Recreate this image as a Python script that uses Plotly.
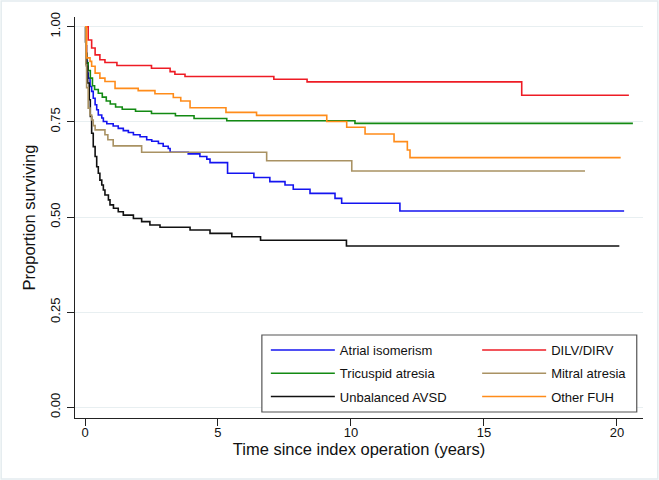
import plotly.graph_objects as go

# Kaplan-Meier estimates (time in years, proportion surviving)
atrial_t = [0, 0.03, 0.06, 0.09, 0.12, 0.19, 0.25, 0.31, 0.38, 0.44, 0.5, 0.63, 0.69, 0.82,
            1.06, 1.25, 1.44, 1.63, 1.82, 2.07, 2.32, 2.51, 2.76, 2.94, 3.13, 3.2, 3.88,
            4.32, 4.58, 4.7, 5.36, 6.35, 6.95, 7.52, 7.83, 8.46, 9.4, 9.65, 11.84, 20.27]
atrial_s = [1.0, 0.95, 0.91, 0.878, 0.865, 0.843, 0.83, 0.812, 0.795, 0.782, 0.768, 0.76, 0.751, 0.745,
            0.739, 0.733, 0.727, 0.722, 0.716, 0.711, 0.703, 0.699, 0.693, 0.686, 0.68, 0.670, 0.666,
            0.659, 0.652, 0.643, 0.615, 0.604, 0.593, 0.584, 0.573, 0.562, 0.549, 0.536, 0.516, 0.516]

dilv_t = [0, 0.12, 0.25, 0.38, 0.56, 0.75, 1.2, 2.5, 3.2, 3.38, 3.76, 7.1, 8.35, 16.42, 20.45]
dilv_s = [1.0, 0.965, 0.944, 0.926, 0.913, 0.906, 0.898, 0.891, 0.882, 0.875, 0.869, 0.862, 0.855, 0.820, 0.820]

tricuspid_t = [0, 0.03, 0.06, 0.12, 0.2, 0.28, 0.36, 0.5, 0.65, 0.8, 0.95, 1.15, 1.4, 1.9,
               2.5, 3.4, 4.1, 5.33, 10.15, 20.6]
tricuspid_s = [1.0, 0.93, 0.905, 0.885, 0.865, 0.845, 0.835, 0.825, 0.815, 0.805, 0.797, 0.789, 0.783, 0.778,
               0.772, 0.766, 0.759, 0.753, 0.746, 0.746]

mitral_t = [0, 0.03, 0.06, 0.12, 0.19, 0.25, 0.31, 0.38, 0.75, 0.86, 1.06, 2.13, 6.83, 10.03, 18.8]
mitral_s = [1.0, 0.9, 0.84, 0.786, 0.768, 0.755, 0.74, 0.729, 0.716, 0.703, 0.687, 0.670, 0.648, 0.621, 0.621]

avsd_t = [0, 0.02, 0.04, 0.06, 0.1, 0.16, 0.2, 0.25, 0.31, 0.38, 0.44, 0.5, 0.56, 0.63, 0.69,
          0.75, 0.88, 0.94, 1.07, 1.25, 1.44, 1.82, 2.13, 2.44, 2.82, 3.95, 4.7, 5.52, 6.6, 9.83, 20.09]
avsd_s = [1.0, 0.96, 0.93, 0.896, 0.852, 0.808, 0.764, 0.72, 0.685, 0.659, 0.632, 0.615, 0.597, 0.584, 0.571,
          0.558, 0.545, 0.532, 0.523, 0.514, 0.505, 0.496, 0.488, 0.479, 0.473, 0.466, 0.457, 0.448, 0.439, 0.424, 0.424]

other_t = [0, 0.06, 0.19, 0.25, 0.38, 0.56, 0.75, 1.13, 2.0, 2.63, 3.32, 3.6, 3.95, 5.3,
           6.45, 9.09, 9.84, 10.53, 11.62, 12.12, 12.22, 20.14]
other_s = [1.0, 0.918, 0.909, 0.896, 0.878, 0.865, 0.856, 0.838, 0.832, 0.824, 0.814, 0.805, 0.787, 0.775,
           0.767, 0.751, 0.736, 0.718, 0.698, 0.676, 0.656, 0.656]

x_ticks = [0, 5, 10, 15, 20]
y_ticks = [0, 0.25, 0.5, 0.75, 1.0]

FONT = "Liberation Sans, Arial, sans-serif"

# (name, times, surv, colour, legend column)
series = [
    ("Atrial isomerism", atrial_t, atrial_s, "#1414f0", "legend"),
    ("Tricuspid atresia", tricuspid_t, tricuspid_s, "#138a13", "legend"),
    ("Unbalanced AVSD", avsd_t, avsd_s, "#111111", "legend"),
    ("DILV/DIRV", dilv_t, dilv_s, "#ee1c25", "legend2"),
    ("Mitral atresia", mitral_t, mitral_s, "#a99263", "legend2"),
    ("Other FUH", other_t, other_s, "#ff8c1a", "legend2"),
]

fig = go.Figure()
for name, t, s, col, leg in series:
    fig.add_trace(go.Scatter(
        x=t, y=s,
        mode="lines",
        line=dict(color=col, width=1.6, shape="hv"),
        name=name,
        legend=leg,
        legendgroup=name))

legend_style = dict(
    yanchor="top", xanchor="left", y=0.207,
    bgcolor="rgba(0,0,0,0)", borderwidth=0,
    itemwidth=64, tracegroupgap=3.4, traceorder="grouped",
    font=dict(family=FONT, size=13, color="#111111"))

fig.update_layout(
    width=659, height=480,
    margin={'l': 75, 'b': 62, 't': 17, 'r': 16, 'autoexpand': False},
    plot_bgcolor="white",
    paper_bgcolor="white",
    font=dict(family=FONT, size=13, color="#111111"),
    legend=dict(x=0.336, **legend_style),
    legend2=dict(x=0.708, **legend_style),
    xaxis=dict(
        range=[-0.376, 20.98],
        tickvals=x_ticks,
        automargin=False,
        showgrid=False, zeroline=False,
        showline=True, linecolor="#222222", linewidth=1.2,
        ticks="outside", ticklen=7, tickcolor="#222222", tickwidth=1.2,
        tickfont=dict(size=13), ticklabelstandoff=-5,
        title=dict(text="Time since index operation (years)", font=dict(size=16.5), standoff=3)),
    yaxis=dict(
        range=[-0.028, 1.0255],
        tickvals=y_ticks, tickformat=".2f",
        tickangle=-90,
        automargin=False,
        showgrid=True, gridcolor="#e8eff1", gridwidth=1,
        zeroline=False,
        showline=True, linecolor="#222222", linewidth=1.2,
        ticks="outside", ticklen=7, tickcolor="#222222", tickwidth=1.2,
        tickfont=dict(size=13), ticklabelstandoff=2,
        title=dict(text="Proportion surviving", font=dict(size=16.5), standoff=7)),
    shapes=[
        # legend box
        dict(type="rect", xref="paper", yref="paper",
             x0=0.329, x1=0.989, y0=0.015, y1=0.207,
             line=dict(color="#555555", width=1.2), fillcolor="white", layer="above"),
        # outer graph region outline
        dict(type="rect", xref="paper", yref="paper",
             x0=-0.130, x1=1.026, y0=-0.152, y1=1.040,
             line=dict(color="#e4ecef", width=1.5), layer="below"),
    ],
)

# page body has a default 8px margin; drop it so the fixed-size figure sits at 0,0
fig.write_html("out.html", config={"displayModeBar": False},
               post_script="document.body.style.margin='0';")
